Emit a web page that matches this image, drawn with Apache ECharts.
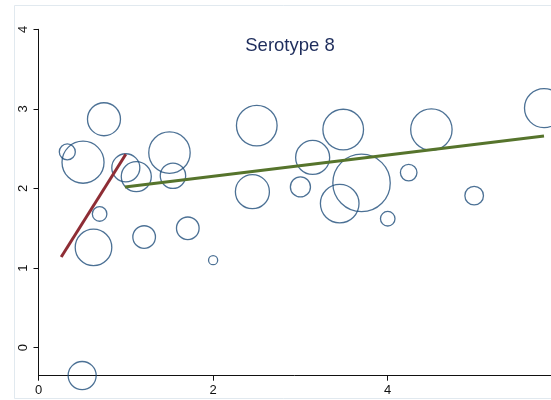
<!DOCTYPE html>
<html>
<head>
<meta charset="utf-8">
<script src="https://cdn.jsdelivr.net/npm/echarts@6/dist/echarts.min.js"></script>
<style>
  html, body { margin: 0; padding: 0; background: #fff; }
  #chart { width: 551px; height: 400px; }
</style>
</head>
<body>
<div id="chart"></div>
<script>
// Serotype 8: weighted observations (bubbles) and two fitted segments
const titleText = 'Serotype 8';

const xValues = [0.33, 0.51, 0.75, 1.00, 1.12, 1.50, 1.54, 0.70, 0.63, 1.21, 1.71, 0.50,
                 2.50, 3.14, 3.49, 2.45, 3.00, 3.70, 3.45, 2.00, 4.00, 4.24, 4.50, 4.99, 5.79];
const yValues = [2.46, 2.33, 2.87, 2.26, 2.15, 2.45, 2.16, 1.68, 1.26, 1.39, 1.50, -0.35,
                 2.79, 2.39, 2.74, 1.96, 2.02, 2.07, 1.81, 1.10, 1.62, 2.20, 2.74, 1.91, 3.01];
const weights = [4.0, 27.6, 17.0, 12.3, 14.1, 26.8, 10.1, 3.3, 20.9, 8.0, 8.0, 12.3,
                 25.8, 18.1, 25.8, 18.1, 6.3, 51.5, 23.3, 1.3, 3.3, 4.3, 26.8, 5.4, 23.8];

// fitted segments: [x, y] endpoints
const fitLow  = [[0.26, 1.14], [1.00, 2.43]];
const fitHigh = [[0.99, 2.02], [5.79, 2.66]];

const xTicks = [0, 2, 4];
const yTicks = [0, 1, 2, 3, 4];

const bubbleData = xValues.map((x, i) => [x, yValues[i], weights[i]]);

const chart = echarts.init(document.getElementById('chart'), null, { renderer: 'canvas' });

const axisFont = { fontFamily: 'Liberation Sans, Arial, sans-serif', fontSize: 13, color: '#111' };

chart.setOption({
  animation: false,
  backgroundColor: '#fff',
  graphic: [
    {
      type: 'rect',
      silent: true,
      shape: { x: 14.5, y: 5.5, width: 600, height: 393 },
      style: { fill: 'none', stroke: '#e1e9ef', lineWidth: 1 },
      z: -10
    },
    {
      type: 'text',
      silent: true,
      x: 290,
      y: 46,
      style: {
        text: titleText,
        align: 'center',
        verticalAlign: 'middle',
        fontFamily: 'Liberation Sans, Arial, sans-serif',
        fontSize: 18.5,
        fill: '#1e2d5c'
      },
      z: 10
    }
  ],
  grid: { left: 38.5, right: 0, top: 29.3, bottom: 24.3, containLabel: false },
  xAxis: {
    type: 'value',
    min: 0,
    max: 5.87,
    interval: 2,
    splitLine: { show: false },
    axisLine: { onZero: false, lineStyle: { color: '#111', width: 1 } },
    axisTick: { show: true, length: 5, lineStyle: { color: '#111' }, customValues: xTicks },
    axisLabel: Object.assign({ margin: 8, customValues: xTicks }, axisFont)
  },
  yAxis: {
    type: 'value',
    min: -0.352,
    max: 4,
    splitLine: { show: false },
    axisLine: { show: true, onZero: false, lineStyle: { color: '#111', width: 1 } },
    axisTick: { show: true, length: 5, lineStyle: { color: '#111' }, customValues: yTicks },
    axisLabel: Object.assign({ rotate: 90, margin: 9, customValues: yTicks }, axisFont)
  },
  series: [
    {
      type: 'scatter',
      data: bubbleData,
      symbol: 'circle',
      symbolSize: d => 8 * Math.sqrt(d[2]),
      itemStyle: { color: 'rgba(0,0,0,0)', borderColor: '#1f4d7a', borderWidth: 1.3 },
      emphasis: { disabled: true },
      clip: false,
      z: 2
    },
    {
      type: 'line',
      data: fitLow,
      symbol: 'none',
      lineStyle: { color: '#8e2d35', width: 3 },
      emphasis: { disabled: true },
      z: 3
    },
    {
      type: 'line',
      data: fitHigh,
      symbol: 'none',
      lineStyle: { color: '#56742c', width: 3 },
      emphasis: { disabled: true },
      z: 3
    }
  ]
});
</script>
</body>
</html>
